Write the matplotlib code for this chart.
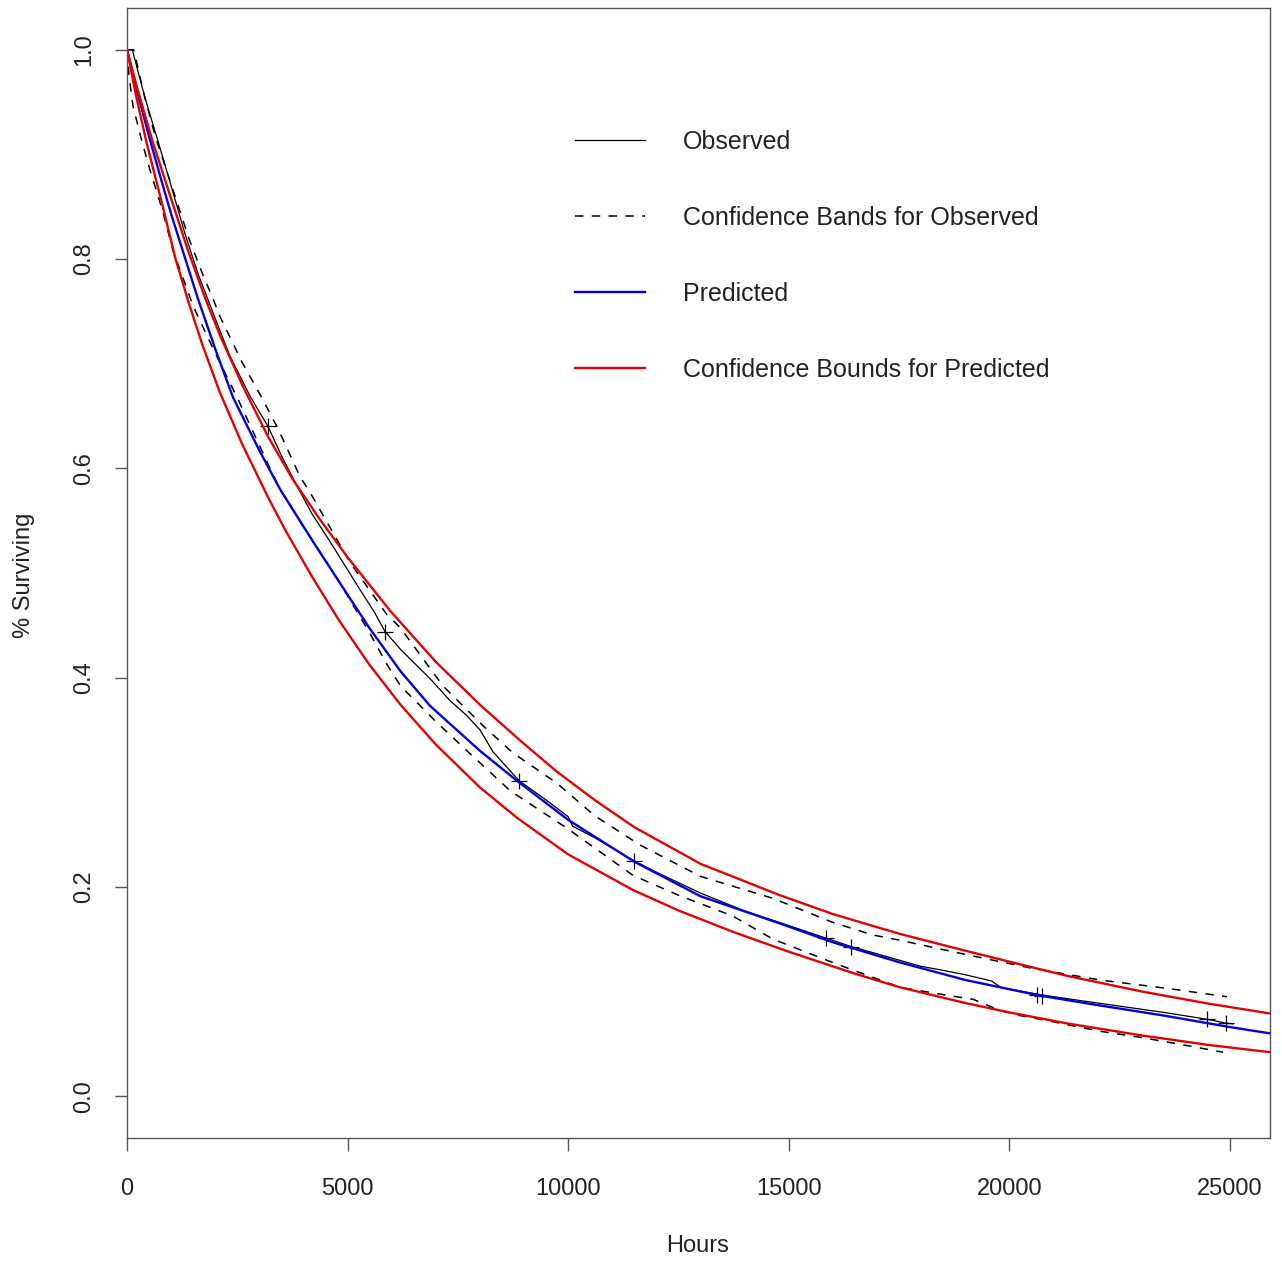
import matplotlib
matplotlib.use("Agg")
from matplotlib import pyplot as plt

plt.rcParams['font.family'] = ['Liberation Sans', 'DejaVu Sans']

# observed (Kaplan-Meier) curve
obs_t = [0, 120, 400, 700, 1000, 1300, 1600, 2000, 2335, 2788, 3196, 3500, 3853,
         4200, 4601, 5000, 5281, 5600, 5848, 6188, 6868, 7321, 7706, 8001, 8296,
         8885, 9500, 10000, 10100, 10600, 11490, 12000, 13000, 14000, 15000,
         15843, 16410, 17000, 18000, 18400, 19000, 19600, 19800, 20690, 21500,
         22500, 23500, 24479, 24909, 25068]
obs_s = [1.0, 1.0, 0.955, 0.913, 0.870, 0.826, 0.787, 0.743, 0.707, 0.669, 0.640,
         0.612, 0.583, 0.556, 0.530, 0.503, 0.484, 0.463, 0.444, 0.4275, 0.399,
         0.378, 0.3635, 0.350, 0.329, 0.3015, 0.283, 0.267, 0.258, 0.247, 0.225,
         0.214, 0.194, 0.177, 0.163, 0.151, 0.143, 0.136, 0.124, 0.121, 0.116,
         0.110, 0.104, 0.097, 0.092, 0.086, 0.080, 0.0735, 0.0697, 0.069]

# censored observations (+ marks)
cens_t = [3196, 5848, 8885, 11490, 15843, 16410, 20620, 20740, 24479, 24909]
cens_s = [0.640, 0.444, 0.3015, 0.225, 0.151, 0.143, 0.097, 0.096, 0.0735, 0.0697]

# confidence bands for observed
obs_hi_t = [0, 150, 400, 635, 1088, 1400, 1700, 1949, 2108, 2600, 3060, 3422,
            3921, 4148, 5054, 5893, 6188, 7162, 8069, 8749, 9746, 10600, 11627,
            13000, 14642, 16000, 16909, 17520, 18500, 19500, 20535, 22053, 23572,
            24932]
obs_hi_s = [1.0, 1.0, 0.955, 0.918, 0.860, 0.820, 0.787, 0.762, 0.745, 0.702,
            0.667, 0.638, 0.592, 0.577, 0.510, 0.460, 0.448, 0.392, 0.354, 0.328,
            0.299, 0.268, 0.240, 0.210, 0.189, 0.166, 0.154, 0.149, 0.140, 0.131,
            0.122, 0.111, 0.103, 0.095]
obs_lo_t = [0, 45, 136, 340, 521, 793, 1043, 1500, 2000, 2516, 3241, 3468, 3989,
            4760, 5508, 5900, 6200, 7000, 7706, 8680, 9973, 11469, 12500, 13735,
            14642, 16160, 17520, 18500, 19175, 19787, 20240, 21000, 22053, 23000,
            23935, 24842]
obs_lo_s = [1.0, 0.975, 0.946, 0.912, 0.885, 0.848, 0.808, 0.755, 0.710, 0.666,
            0.600, 0.580, 0.545, 0.495, 0.442, 0.412, 0.392, 0.358, 0.330, 0.292,
            0.256, 0.211, 0.192, 0.172, 0.150, 0.125, 0.104, 0.097, 0.0925, 0.082,
            0.077, 0.071, 0.062, 0.056, 0.049, 0.042]

# predicted curve and its bounds
pred_t = [0, 200, 500, 800, 1000, 1300, 1600, 2000, 2400, 3000, 3468, 4200, 4800,
          5500, 6200, 6868, 8000, 8850, 10000, 11500, 13000, 14800, 16000, 17500,
          19000, 20700, 22000, 23500, 25000, 25906]
pred_s = [1.0, 0.965, 0.917, 0.872, 0.843, 0.803, 0.763, 0.714, 0.668, 0.617,
          0.580, 0.531, 0.492, 0.447, 0.406, 0.373, 0.330, 0.301, 0.264, 0.224,
          0.191, 0.165, 0.147, 0.128, 0.111, 0.096, 0.087, 0.077, 0.066, 0.060]
pred_hi_t = [0, 200, 567, 1020, 1383, 1768, 2108, 2630, 3200, 3763, 4374, 5000,
             5961, 7000, 8001, 8907, 9746, 10600, 11500, 13000, 14800, 16000,
             17520, 19000, 20240, 21305, 23000, 24500, 25906]
pred_hi_s = [1.0, 0.968, 0.914, 0.855, 0.808, 0.763, 0.727, 0.678, 0.630, 0.589,
             0.551, 0.515, 0.464, 0.415, 0.374, 0.340, 0.310, 0.283, 0.257, 0.222,
             0.192, 0.174, 0.155, 0.139, 0.126, 0.115, 0.100, 0.0885, 0.079]
pred_lo_t = [0, 200, 450, 800, 1100, 1400, 1700, 2100, 2600, 3200, 3600, 4200,
             4800, 5500, 6200, 7000, 8000, 8840, 10000, 11469, 12500, 13735, 15000,
             16500, 17520, 19000, 20000, 21305, 23000, 24500, 25906]
pred_lo_s = [1.0, 0.957, 0.910, 0.852, 0.800, 0.758, 0.719, 0.673, 0.624, 0.572,
             0.540, 0.496, 0.455, 0.412, 0.374, 0.336, 0.295, 0.266, 0.231, 0.197,
             0.1774, 0.157, 0.138, 0.117, 0.104, 0.089, 0.080, 0.0695, 0.058, 0.049,
             0.042]

fig = plt.figure(figsize=(12.82, 12.64), dpi=100)
ax = fig.add_axes([0.0991, 0.0997, 0.8915, 0.894])

dash = (0, (5.5, 5.5))
ax.plot(obs_t, obs_s, color='black', lw=0.9, label='Observed')
ax.plot(cens_t, cens_s, ls='none', marker='+', ms=12, mew=0.9, color='black')
ax.plot(obs_hi_t, obs_hi_s, color='black', lw=1.1, ls=dash,
        label='Confidence Bands for Observed')
ax.plot(obs_lo_t, obs_lo_s, color='black', lw=1.1, ls=dash)
ax.plot(pred_t, pred_s, color='#0000e0', lw=1.7, label='Predicted')
ax.plot(pred_hi_t, pred_hi_s, color='#e60000', lw=1.7,
        label='Confidence Bounds for Predicted')
ax.plot(pred_lo_t, pred_lo_s, color='#e60000', lw=1.7)

ax.set_xlim(0, 25906)
ax.set_ylim(-0.04, 1.04)
ax.set_xticks([0, 5000, 10000, 15000, 20000, 25000])
ax.set_yticks([0.0, 0.2, 0.4, 0.6, 0.8, 1.0])
ax.set_yticklabels(['0.0', '0.2', '0.4', '0.6', '0.8', '1.0'], rotation=90, va='center')

for s in ax.spines.values():
    s.set_color('#555555')
    s.set_linewidth(1.0)
ax.tick_params(axis='both', direction='out', length=9, width=1.0, color='#555555',
               labelsize=17, labelcolor='#222222')
ax.tick_params(axis='x', pad=20)
ax.tick_params(axis='y', pad=14)

ax.set_xlabel('Hours', fontsize=17, color='#222222', va='center')
ax.set_ylabel('% Surviving', fontsize=17, color='#222222', va='center')
ax.xaxis.set_label_coords(0.4996, -0.0955)
ax.yaxis.set_label_coords(-0.0900, 0.498)

handles, labels = ax.get_legend_handles_labels()
ax.legend(handles, labels, loc='upper left', bbox_to_anchor=(0.392, 0.8922),
          frameon=False, fontsize=18, handlelength=2.8, handletextpad=1.5,
          labelspacing=2.08, borderpad=0, borderaxespad=0, labelcolor='#222222')

fig.savefig('out.png', dpi=100)
